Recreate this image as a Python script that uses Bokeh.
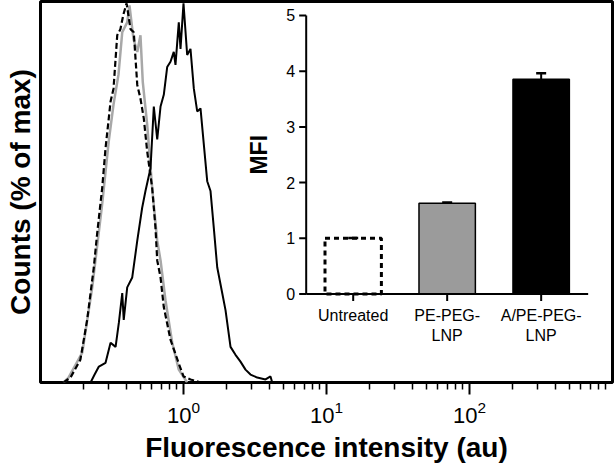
import numpy as np
from bokeh.plotting import figure
from bokeh.models import Range1d, FixedTicker, LinearScale
from bokeh.core.properties import value
from bokeh.embed import file_html
from bokeh.resources import INLINE

# ---- Histogram data: fluorescence intensity (au) vs counts (% of max) ----
untreated_x = [0.145, 0.162, 0.190, 0.212, 0.236, 0.249, 0.270, 0.285, 0.309, 0.324,
               0.344, 0.362, 0.380, 0.400, 0.426, 0.449, 0.475, 0.500, 0.528, 0.557,
               0.604, 0.637, 0.655, 0.691, 0.728, 0.811, 0.923, 1.000, 1.120, 1.320]
untreated_y = [0, 1.3, 6.0, 16.5, 30.4, 39.3, 51.3, 61.8, 74.1, 77.5,
               91.6, 93.2, 97.1, 100, 93.2, 92.4, 78.5, 74.9, 69.6, 61.0,
               51.3, 40.8, 32.2, 27.7, 19.9, 11.3, 5.2, 1.6, 0.8, 0]

pe_x = [0.145, 0.157, 0.196, 0.230, 0.270, 0.300, 0.324, 0.351, 0.373, 0.404,
        0.419, 0.447, 0.475, 0.500, 0.519, 0.557, 0.604, 0.655, 0.691, 0.748,
        0.834, 0.927, 1.060]
pe_y = [0, 1.3, 7.9, 25.1, 47.1, 63.6, 73.3, 81.2, 92.4, 95.0,
        99.5, 90.6, 87.2, 91.6, 79.3, 68.1, 51.3, 37.4, 32.2, 21.7,
        10.5, 3.4, 0]

ape_x = [0.224, 0.239, 0.256, 0.285, 0.309, 0.335, 0.353, 0.373, 0.382, 0.404,
         0.438, 0.475, 0.514, 0.542, 0.588, 0.620, 0.655, 0.691, 0.728, 0.769,
         0.811, 0.855, 0.879, 0.927, 0.953, 1.000, 1.061, 1.119, 1.181, 1.247,
         1.315, 1.387, 1.465, 1.545, 1.629, 1.721, 1.865, 1.967, 2.132, 2.310,
         2.503, 2.714, 2.941, 3.277, 3.745, 4.059, 4.172]
ape_y = [0, 2.1, 4.2, 5.2, 10.5, 9.4, 15.7, 23.6, 16.5, 25.1,
         27.7, 37.4, 46.1, 50.5, 56.5, 72.8, 64.1, 72.8, 75.9, 83.2,
         84.6, 87.2, 83.8, 95.0, 88.0, 100, 86.4, 88.0, 77.5, 71.5,
         72.3, 62.8, 53.1, 50.5, 40.8, 30.4, 23.6, 19.1, 9.4, 7.3,
         5.5, 3.4, 2.1, 1.3, 0.8, 1.6, 0]

x_major_ticks = [1, 10, 100]
x_minor_ticks = [0.2, 0.3, 0.4, 0.5, 0.6, 0.7, 0.8, 0.9,
                 2, 3, 4, 5, 6, 7, 8, 9,
                 20, 30, 40, 50, 60, 70, 80, 90,
                 200, 300, 400, 500, 600, 700, 800, 900]

# ---- Inset bar chart data ----
mfi_groups = ["Untreated", "PE-PEG-\nLNP", "A/PE-PEG-\nLNP"]
mfi_values = [1.0, 1.63, 3.855]
mfi_errors = [0.006, 0.015, 0.11]
mfi_ticks = [0, 1, 2, 3, 4, 5]

FONT = "Liberation Sans"

p = figure(width=616, height=465, x_axis_type="log",
           x_range=Range1d(0.1, 1000), y_range=Range1d(0, 100.5),
           output_backend="svg", toolbar_location=None,
           min_border_left=40, min_border_right=4, min_border_top=1,
           min_border_bottom=82)
p.grid.visible = False
p.outline_line_color = "black"
p.outline_line_width = 3
p.background_fill_color = "white"
p.border_fill_color = "white"

xa = p.xaxis[0]
xa.ticker = FixedTicker(ticks=x_major_ticks, minor_ticks=x_minor_ticks)
xa.axis_line_color = None
xa.major_tick_in = 0
xa.major_tick_out = 12
xa.minor_tick_in = 0
xa.minor_tick_out = 7
xa.major_tick_line_width = 2
xa.minor_tick_line_width = 1.5
xa.major_tick_line_color = "black"
xa.minor_tick_line_color = "black"
xa.major_label_text_font = FONT
xa.major_label_text_font_size = "22px"
xa.major_label_text_color = "black"
xa.major_label_standoff = 6
xa.axis_label = "Fluorescence intensity (au)"
xa.axis_label_text_font = FONT
xa.axis_label_text_font_style = "bold"
xa.axis_label_text_font_size = "28px"
xa.axis_label_text_color = "black"
xa.axis_label_standoff = 6

ya = p.yaxis[0]
ya.ticker = FixedTicker(ticks=[])
ya.axis_line_color = None
ya.major_tick_line_color = None
ya.minor_tick_line_color = None
ya.major_tick_out = 0
ya.major_label_standoff = 0
ya.major_label_text_font_size = "0px"
ya.axis_label = "Counts (% of max)"
ya.axis_label_text_font = FONT
ya.axis_label_text_font_style = "bold"
ya.axis_label_text_font_size = "28px"
ya.axis_label_text_color = "black"
ya.axis_label_standoff = 5

# histograms
p.line(pe_x, pe_y, line_color="#a8a8a8", line_width=2.5)
p.line(untreated_x, untreated_y, line_color="black", line_width=2.2, line_dash="6 3")
p.line(ape_x, ape_y, line_color="black", line_width=2)

# ---- inset (drawn on linear extra ranges inside the frame) ----
p.extra_x_ranges = {"ix": Range1d(-2.827, 3.259)}
p.extra_y_ranges = {"iy": Range1d(-1.588, 5.251)}
p.extra_x_scales = {"ix": LinearScale()}
p.extra_y_scales = {"iy": LinearScale()}
R = dict(x_range_name="ix", y_range_name="iy")

n = len(mfi_groups)
centers = [i + 0.5 for i in range(n)]
tops_err = [v + e for v, e in zip(mfi_values, mfi_errors)]

# bars
p.vbar(x=centers[1:], top=mfi_values[1:], bottom=0, width=0.6,
       fill_color=["#9b9b9b", "black"], line_color="black", line_width=1.5, **R)
p.vbar(x=centers[:1], top=mfi_values[:1], bottom=0, width=0.6,
       fill_color=None, line_color="black", line_width=3, line_dash="5 4", **R)

# error bars
p.segment(x0=centers, y0=mfi_values, x1=centers, y1=tops_err,
          line_color="black", line_width=2, **R)
p.scatter(x=centers, y=tops_err, marker="dash", size=10, line_color="black",
          line_width=2.5, **R)

# inset axes
p.segment(x0=[0, 0], y0=[0, 0], x1=[0, n], y1=[max(mfi_ticks), 0],
          line_color="black", line_width=2, **R)
p.ray(x=[0] * len(mfi_ticks), y=mfi_ticks, length=7, length_units="screen",
      angle=np.pi, line_color="black", line_width=2, **R)
p.ray(x=centers, y=[0] * n, length=7, length_units="screen",
      angle=-np.pi / 2, line_color="black", line_width=2, **R)

p.text(x=[0] * len(mfi_ticks), y=mfi_ticks, text=[str(t) for t in mfi_ticks],
       x_offset=-11, text_align="right", text_baseline="middle",
       text_font=value(FONT), text_font_size="16px", text_color="black", **R)
p.text(x=centers, y=[0] * n, text=mfi_groups, y_offset=13,
       text_align="center", text_baseline="top", text_line_height=1.15,
       text_font=value(FONT), text_font_size="16px", text_color="black", **R)
p.text(x=[0], y=[max(mfi_ticks) / 2], text=["MFI"], x_offset=-47,
       angle=np.pi / 2, text_align="center", text_baseline="middle",
       text_font=value(FONT), text_font_style="bold", text_font_size="23px",
       text_color="black", **R)

open("out.html", "w").write(file_html(p, INLINE))
